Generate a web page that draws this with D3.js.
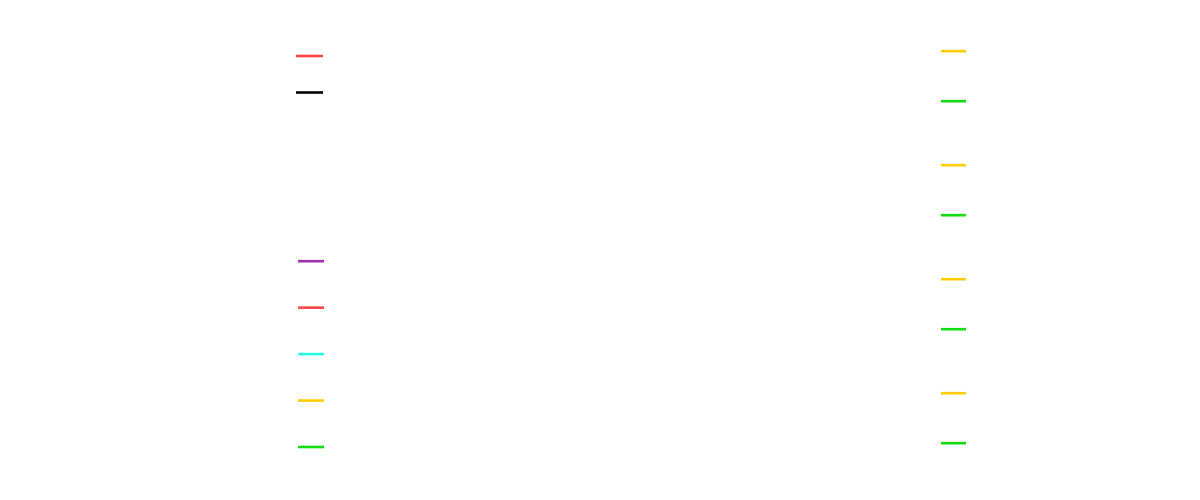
<!DOCTYPE html>
<html>
<head>
<meta charset="utf-8">
<script src="https://cdn.jsdelivr.net/npm/d3@7"></script>
<style>
  html, body { margin: 0; padding: 0; background: #ffffff; }
  svg { display: block; }
</style>
</head>
<body>
<svg id="chart" width="1200" height="500"></svg>
<script>
// Legend series (only swatches are visible in the reference)
const leftTopSeries = ["A", "B"];
const leftTopColors = ["#ff4444", "#000000"];

const leftBottomSeries = ["C1", "C2", "C3", "C4", "C5"];
const leftBottomColors = ["#a030b0", "#ff4444", "#22f8e0", "#ffcc00", "#11dd11"];

const rightGroups = ["G1", "G2", "G3", "G4"];
const rightPairSeries = ["P1", "P2"];
const rightPairColors = ["#ffcc00", "#11dd11"];

const svg = d3.select("#chart");
const swatchW = 26;
const sw = 2.6;

// Left top legend
const yLT = d3.scalePoint().domain(leftTopSeries).range([56, 92.5]);
svg.append("g").selectAll("line")
  .data(leftTopSeries)
  .join("line")
  .attr("x1", 296).attr("x2", 296 + swatchW + 1)
  .attr("y1", d => yLT(d)).attr("y2", d => yLT(d))
  .attr("stroke", (d, i) => leftTopColors[i])
  .attr("stroke-width", sw);

// Left bottom legend
const yLB = d3.scalePoint().domain(leftBottomSeries).range([261.2, 447]);
svg.append("g").selectAll("line")
  .data(leftBottomSeries)
  .join("line")
  .attr("x1", 298).attr("x2", 298 + swatchW)
  .attr("y1", d => yLB(d)).attr("y2", d => yLB(d))
  .attr("stroke", (d, i) => leftBottomColors[i])
  .attr("stroke-width", sw);

// Right legend (groups of pairs)
const yG = d3.scalePoint().domain(rightGroups).range([51.2, 393.2]);
const yP = d3.scalePoint().domain(rightPairSeries).range([0, 50]);
const rightItems = rightGroups.flatMap(g => rightPairSeries.map((p, i) => ({ g, p, c: rightPairColors[i] })));
svg.append("g").selectAll("line")
  .data(rightItems)
  .join("line")
  .attr("x1", 941).attr("x2", 941 + swatchW - 1)
  .attr("y1", d => yG(d.g) + yP(d.p)).attr("y2", d => yG(d.g) + yP(d.p))
  .attr("stroke", d => d.c)
  .attr("stroke-width", sw);
</script>
</body>
</html>
